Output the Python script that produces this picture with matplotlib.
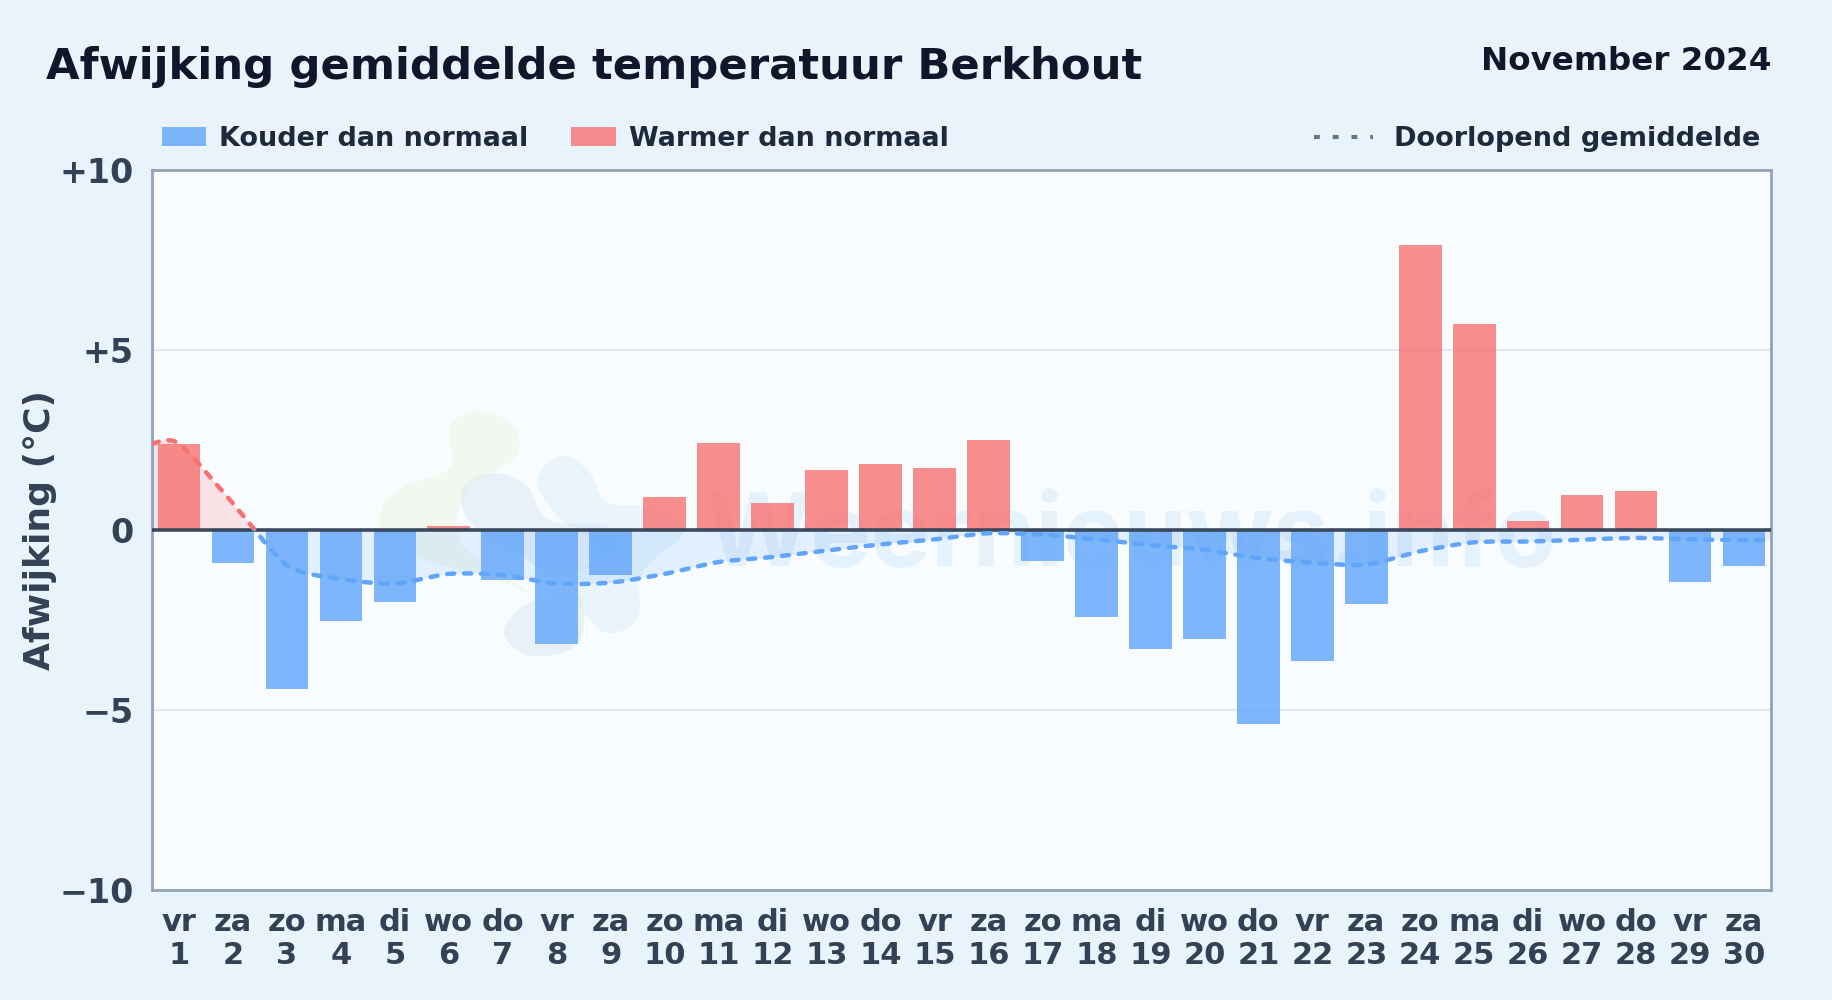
import numpy as np
import matplotlib
matplotlib.use("Agg")
import matplotlib.pyplot as plt
from matplotlib.lines import Line2D
from matplotlib.patches import PathPatch, Patch, Rectangle
from matplotlib.path import Path
from matplotlib.transforms import IdentityTransform, blended_transform_factory

days = list(range(1, 31))
weekdays = ["vr", "za", "zo", "ma", "di", "wo", "do", "vr", "za", "zo",
            "ma", "di", "wo", "do", "vr", "za", "zo", "ma", "di", "wo",
            "do", "vr", "za", "zo", "ma", "di", "wo", "do", "vr", "za"]
deviation = [2.4, -0.92, -4.42, -2.52, -2.0, 0.1, -1.4, -3.18, -1.25, 0.93,
             2.42, 0.75, 1.68, 1.82, 1.72, 2.5, -0.85, -2.43, -3.3, -3.03,
             -5.4, -3.65, -2.05, 7.92, 5.72, 0.25, 0.97, 1.08, -1.45, -1.0]
running_mean = [2.4, 0.74, -0.98, -1.36, -1.49, -1.22, -1.25, -1.49, -1.46, -1.22,
                -0.89, -0.75, -0.57, -0.4, -0.26, -0.09, -0.13, -0.26, -0.42, -0.55,
                -0.78, -0.91, -0.96, -0.59, -0.34, -0.32, -0.27, -0.22, -0.26, -0.28]
yticks = [-10, -5, 0, 5, 10]
yticklabels = ["\u221210", "\u22125", "0", "+5", "+10"]

BLUE = "#60a5fa"
RED = "#f87171"


def smooth_path(xs, ys, tension=0.13):
    # bezier through the points, same idea as a canvas line with tension
    pts = np.column_stack([xs, ys])
    verts = [pts[0]]
    for i in range(len(pts) - 1):
        prev = pts[max(i - 1, 0)]
        nxt = pts[min(i + 2, len(pts) - 1)]
        verts.append(pts[i] + (pts[i + 1] - prev) * tension)
        verts.append(pts[i + 1] - (nxt - pts[i]) * tension)
        verts.append(pts[i + 1])
    return np.array(verts)


def blob(ax, fig, coords, color, alpha):
    # closed soft shape for the logo, coords in 1568x856 picture pixels
    c = np.array(coords + coords[:1] + coords[1:2] + coords[2:3], dtype=float)
    v = smooth_path(c[:, 0] / 1568, 1 - c[:, 1] / 856, 0.18)[3:-3]
    codes = [Path.MOVETO] + [Path.CURVE4] * (len(v) - 1)
    ax.add_patch(PathPatch(Path(v, codes), fc=color, ec="none", alpha=alpha,
                           transform=fig.transFigure, zorder=1))


fig = plt.figure(figsize=(18.32, 10), dpi=100, facecolor="#e8f3fc")
ax = fig.add_axes([152 / 1832, 1 - 890 / 1000, (1771 - 152) / 1832, (890 - 170) / 1000])
ax.set_facecolor("#f8fcff")

# watermark
blob(ax, fig, [(325, 440), (345, 417), (385, 400), (385, 365), (410, 352), (440, 365),
               (440, 392), (400, 420), (395, 465), (450, 505), (420, 495), (340, 470)],
     "#eef6e4", 0.55)
blob(ax, fig, [(460, 410), (482, 390), (505, 405), (520, 430), (560, 435), (585, 455),
               (550, 490), (545, 530), (515, 540), (490, 500), (510, 470), (475, 440)],
     "#dceefc", 0.5)
blob(ax, fig, [(395, 420), (420, 405), (450, 415), (470, 445), (520, 450), (530, 470),
               (480, 492), (440, 472), (405, 450)], "#d5e3f0", 0.42)
blob(ax, fig, [(433, 535), (455, 515), (495, 510), (495, 550), (460, 562), (437, 552)],
     "#d5e3f0", 0.42)
ax.text(968 / 1568 * 1832, -0.25, "Weernieuws.info", fontsize=73, fontweight="bold",
        family="Inter", color="#bcd8f2", alpha=0.3, ha="center", va="center",
        transform=blended_transform_factory(IdentityTransform(), ax.transData), zorder=1)

ax.set_xlim(0.5, 30.5)
ax.set_ylim(-10, 10)
ax.set_yticks(yticks)
ax.set_yticklabels(yticklabels)
ax.set_xticks(days)
ax.set_xticklabels([f"{w}\n{d}" for w, d in zip(weekdays, days)], linespacing=1.15)
ax.tick_params(length=0)
ax.tick_params(axis="x", labelsize=22, pad=13, labelcolor="#334155")
ax.tick_params(axis="y", labelsize=24, pad=13, labelcolor="#334155")
for lab in ax.get_xticklabels() + ax.get_yticklabels():
    lab.set_fontweight("bold")
ax.grid(axis="y", color="#e2e8f0", linewidth=1.5, zorder=1.5)
ax.set_axisbelow(True)
ax.set_ylabel("Afwijking (\u00b0C)", fontsize=26, fontweight="bold", color="#334155")
ax.yaxis.set_label_coords(57 / 1832, 1 - 530 / 1000, transform=fig.transFigure)
for sp in ax.spines.values():
    sp.set_color("#94a3b8")
    sp.set_linewidth(2)

# bars
colors = [RED if v >= 0 else BLUE for v in deviation]
ax.bar(days, deviation, width=0.79, color=colors, alpha=0.8, zorder=3)

# running mean: one path, drawn red above zero and blue below
x_line = [days[0] - 0.5] + days + [days[-1] + 0.5]
y_line = [running_mean[0]] + running_mean + [running_mean[-1]]
verts = smooth_path(x_line, y_line)
codes = [Path.MOVETO] + [Path.CURVE4] * (len(verts) - 1)
line_path = Path(verts, codes)
area_verts = np.vstack([verts, [verts[-1][0], 0], [verts[0][0], 0], verts[0]])
area_codes = codes + [Path.LINETO, Path.LINETO, Path.CLOSEPOLY]
area_path = Path(area_verts, area_codes)
for col, y0, fill_alpha in [(RED, 0, 0.18), (BLUE, -10, 0.15)]:
    clip = Rectangle((0.5, y0), 30, 10, transform=ax.transData)
    area = PathPatch(area_path, fc=col, ec="none", alpha=fill_alpha, zorder=2)
    ax.add_patch(area)
    area.set_clip_path(clip)
    line = PathPatch(line_path, fc="none", ec=col, linewidth=3.2, linestyle=(0, (1.6, 2.2)),
                     capstyle="round", zorder=5)
    ax.add_patch(line)
    line.set_clip_path(clip)

ax.axhline(0, color="#334155", linewidth=2.6, alpha=0.95, zorder=4)

fig.text(46 / 1832, 1 - 67 / 1000, "Afwijking gemiddelde temperatuur Berkhout", fontsize=31.2,
         fontweight="bold", color="#0f172a", ha="left", va="center")
fig.text(1771 / 1832, 1 - 61 / 1000, "November 2024", fontsize=23.4, fontweight="bold",
         color="#0f172a", ha="right", va="center")

# legends
left_handles = [Patch(fc=BLUE, alpha=0.8, ec="none"), Patch(fc=RED, alpha=0.8, ec="none")]
leg1 = fig.legend(left_handles, ["Kouder dan normaal", "Warmer dan normaal"], ncol=2,
                  loc="center left", bbox_to_anchor=(161.5 / 1832, 1 - 139 / 1000), frameon=False,
                  fontsize=19.45, borderpad=0, borderaxespad=0, handlelength=1.65, handleheight=0.75,
                  handletextpad=0.48, columnspacing=1.58)
right_handle = Line2D([], [], color="#64748b", linewidth=3, linestyle=(0, (1.4, 3.1)))
leg2 = fig.legend([right_handle], ["Doorlopend gemiddelde"], loc="center right",
                  bbox_to_anchor=(1760 / 1832, 1 - 139 / 1000), frameon=False, fontsize=19.5,
                  borderpad=0, borderaxespad=0, handlelength=2.2, handletextpad=0.75)
for leg in (leg1, leg2):
    for t in leg.get_texts():
        t.set_fontweight("bold")
        t.set_color("#1e293b")

fig.savefig("out.png", dpi=100, facecolor=fig.get_facecolor())
